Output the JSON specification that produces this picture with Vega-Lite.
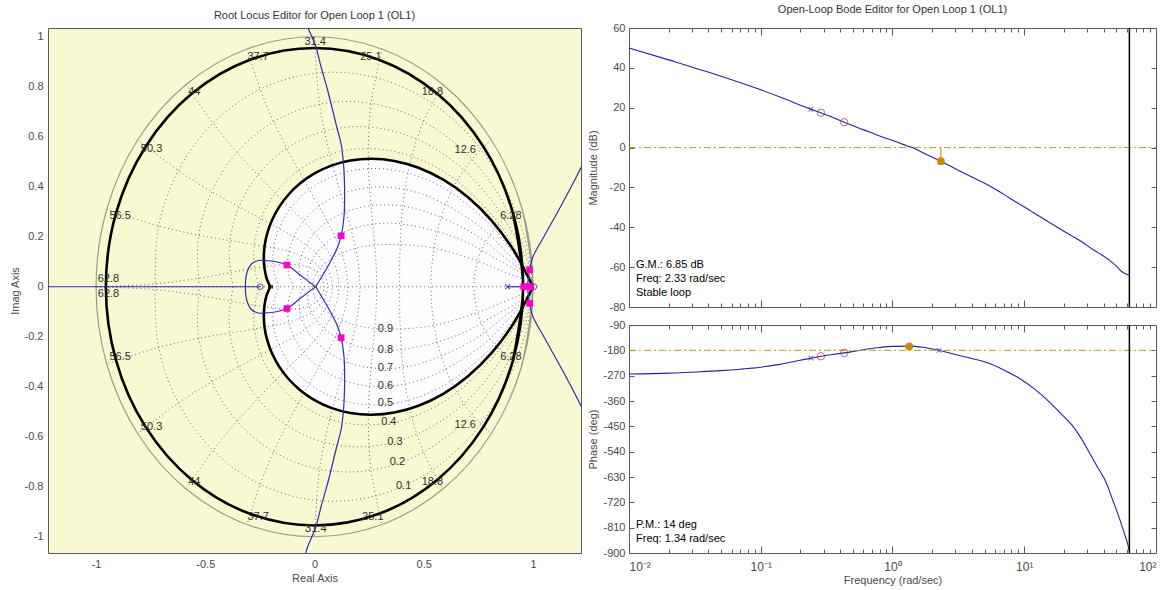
{
"$schema": "https://vega.github.io/schema/vega-lite/v6.json",
"background": "white",
"padding": {"left": 8, "top": 3, "right": 0, "bottom": 0},
"config": {
 "font": "Liberation Sans",
 "view": {"stroke": "#5a5a5a", "strokeWidth": 1},
 "axis": {"labelFont": "Liberation Sans", "labelFontSize": 11, "labelColor": "#4a4a4a", "titleFont": "Liberation Sans", "titleFontSize": 11, "titleFontWeight": "normal", "titleColor": "#4a4a4a", "grid": false, "domain": false, "tickColor": "#5a5a5a"},
 "title": {"font": "Liberation Sans", "fontSize": 11, "fontWeight": "normal", "color": "#333333", "offset": 7}
},
"datasets": {
 "grid": [
  {"g":"w1","x":0.9511,"y":0.309},{"g":"w1","x":0.895,"y":0.2846},{"g":"w1","x":0.8456,"y":0.2504},{"g":"w1","x":0.8022,"y":0.206},{"g":"w1","x":0.7731,"y":0.163},{"g":"w1","x":0.7552,"y":0.1261},{"g":"w1","x":0.7416,"y":0.086},{"g":"w1","x":0.7336,"y":0.0459},{"g":"w1","x":0.7304,"y":0},{"g":"w1","x":0.7336,"y":-0.0459},{"g":"w1","x":0.7416,"y":-0.086},{"g":"w1","x":0.7552,"y":-0.1261},{"g":"w1","x":0.7731,"y":-0.163},{"g":"w1","x":0.8022,"y":-0.206},{"g":"w1","x":0.8456,"y":-0.2504},{"g":"w1","x":0.895,"y":-0.2846},{"g":"w1","x":0.9511,"y":-0.309},
  {"g":"w2","x":0.809,"y":0.5878},{"g":"w2","x":0.72,"y":0.5092},{"g":"w2","x":0.6524,"y":0.4235},{"g":"w2","x":0.6011,"y":0.3305},{"g":"w2","x":0.5712,"y":0.252},{"g":"w2","x":0.5544,"y":0.1905},{"g":"w2","x":0.5427,"y":0.1277},{"g":"w2","x":0.536,"y":0.0674},{"g":"w2","x":0.5335,"y":0},{"g":"w2","x":0.536,"y":-0.0674},{"g":"w2","x":0.5427,"y":-0.1277},{"g":"w2","x":0.5544,"y":-0.1905},{"g":"w2","x":0.5712,"y":-0.252},{"g":"w2","x":0.6011,"y":-0.3305},{"g":"w2","x":0.6524,"y":-0.4235},{"g":"w2","x":0.72,"y":-0.5092},{"g":"w2","x":0.809,"y":-0.5878},
  {"g":"w3","x":0.5878,"y":0.809},{"g":"w3","x":0.4987,"y":0.6611},{"g":"w3","x":0.4455,"y":0.5216},{"g":"w3","x":0.4141,"y":0.3889},{"g":"w3","x":0.4004,"y":0.2879},{"g":"w3","x":0.3946,"y":0.2138},{"g":"w3","x":0.3915,"y":0.1413},{"g":"w3","x":0.3901,"y":0.0741},{"g":"w3","x":0.3897,"y":0},{"g":"w3","x":0.3901,"y":-0.0741},{"g":"w3","x":0.3915,"y":-0.1413},{"g":"w3","x":0.3946,"y":-0.2138},{"g":"w3","x":0.4004,"y":-0.2879},{"g":"w3","x":0.4141,"y":-0.3889},{"g":"w3","x":0.4455,"y":-0.5216},{"g":"w3","x":0.4987,"y":-0.6611},{"g":"w3","x":0.5878,"y":-0.809},
  {"g":"w4","x":0.309,"y":0.9511},{"g":"w4","x":0.2589,"y":0.7335},{"g":"w4","x":0.2464,"y":0.5524},{"g":"w4","x":0.2525,"y":0.397},{"g":"w4","x":0.2627,"y":0.2879},{"g":"w4","x":0.2711,"y":0.2113},{"g":"w4","x":0.2782,"y":0.1385},{"g":"w4","x":0.2828,"y":0.0722},{"g":"w4","x":0.2846,"y":0},{"g":"w4","x":0.2828,"y":-0.0722},{"g":"w4","x":0.2782,"y":-0.1385},{"g":"w4","x":0.2711,"y":-0.2113},{"g":"w4","x":0.2627,"y":-0.2879},{"g":"w4","x":0.2525,"y":-0.397},{"g":"w4","x":0.2464,"y":-0.5524},{"g":"w4","x":0.2589,"y":-0.7335},{"g":"w4","x":0.309,"y":-0.9511},
  {"g":"w5","x":0,"y":1},{"g":"w5","x":0.0232,"y":0.73},{"g":"w5","x":0.0698,"y":0.5289},{"g":"w5","x":0.1204,"y":0.3706},{"g":"w5","x":0.1561,"y":0.2654},{"g":"w5","x":0.178,"y":0.1937},{"g":"w5","x":0.1945,"y":0.1267},{"g":"w5","x":0.2041,"y":0.066},{"g":"w5","x":0.2079,"y":0},{"g":"w5","x":0.2041,"y":-0.066},{"g":"w5","x":0.1945,"y":-0.1267},{"g":"w5","x":0.178,"y":-0.1937},{"g":"w5","x":0.1561,"y":-0.2654},{"g":"w5","x":0.1204,"y":-0.3706},{"g":"w5","x":0.0698,"y":-0.5289},{"g":"w5","x":0.0232,"y":-0.73},{"g":"w5","x":0,"y":-1},
  {"g":"w6","x":-0.309,"y":0.9511},{"g":"w6","x":-0.2483,"y":0.7901},{"g":"w6","x":-0.187,"y":0.6599},{"g":"w6","x":-0.0735,"y":0.4647},{"g":"w6","x":0.0203,"y":0.3221},{"g":"w6","x":0.0775,"y":0.2305},{"g":"w6","x":0.1101,"y":0.1687},{"g":"w6","x":0.1333,"y":0.1107},{"g":"w6","x":0.1467,"y":0.0578},{"g":"w6","x":0.1518,"y":0},{"g":"w6","x":0.1467,"y":-0.0578},{"g":"w6","x":0.1333,"y":-0.1107},{"g":"w6","x":0.1101,"y":-0.1687},{"g":"w6","x":0.0775,"y":-0.2305},{"g":"w6","x":0.0203,"y":-0.3221},{"g":"w6","x":-0.0735,"y":-0.4647},{"g":"w6","x":-0.187,"y":-0.6599},{"g":"w6","x":-0.2483,"y":-0.7901},{"g":"w6","x":-0.309,"y":-0.9511},
  {"g":"w7","x":-0.5878,"y":0.809},{"g":"w7","x":-0.4646,"y":0.6544},{"g":"w7","x":-0.3549,"y":0.5376},{"g":"w7","x":-0.179,"y":0.3744},{"g":"w7","x":-0.0501,"y":0.2626},{"g":"w7","x":0.0223,"y":0.1909},{"g":"w7","x":0.0619,"y":0.1413},{"g":"w7","x":0.0894,"y":0.0936},{"g":"w7","x":0.105,"y":0.0491},{"g":"w7","x":0.1109,"y":0},{"g":"w7","x":0.105,"y":-0.0491},{"g":"w7","x":0.0894,"y":-0.0936},{"g":"w7","x":0.0619,"y":-0.1413},{"g":"w7","x":0.0223,"y":-0.1909},{"g":"w7","x":-0.0501,"y":-0.2626},{"g":"w7","x":-0.179,"y":-0.3744},{"g":"w7","x":-0.3549,"y":-0.5376},{"g":"w7","x":-0.4646,"y":-0.6544},{"g":"w7","x":-0.5878,"y":-0.809},
  {"g":"w8","x":-0.809,"y":0.5878},{"g":"w8","x":-0.6235,"y":0.465},{"g":"w8","x":-0.4704,"y":0.3804},{"g":"w8","x":-0.2449,"y":0.272},{"g":"w8","x":-0.0945,"y":0.2002},{"g":"w8","x":-0.0139,"y":0.1512},{"g":"w8","x":0.0288,"y":0.1145},{"g":"w8","x":0.0581,"y":0.0772},{"g":"w8","x":0.0748,"y":0.0409},{"g":"w8","x":0.081,"y":0},{"g":"w8","x":0.0748,"y":-0.0409},{"g":"w8","x":0.0581,"y":-0.0772},{"g":"w8","x":0.0288,"y":-0.1145},{"g":"w8","x":-0.0139,"y":-0.1512},{"g":"w8","x":-0.0945,"y":-0.2002},{"g":"w8","x":-0.2449,"y":-0.272},{"g":"w8","x":-0.4704,"y":-0.3804},{"g":"w8","x":-0.6235,"y":-0.465},{"g":"w8","x":-0.809,"y":-0.5878},
  {"g":"w9","x":-0.9511,"y":0.309},{"g":"w9","x":-0.7135,"y":0.2429},{"g":"w9","x":-0.5294,"y":0.2061},{"g":"w9","x":-0.2752,"y":0.1685},{"g":"w9","x":-0.1169,"y":0.1412},{"g":"w9","x":-0.0353,"y":0.1146},{"g":"w9","x":0.0073,"y":0.0901},{"g":"w9","x":0.0365,"y":0.0622},{"g":"w9","x":0.053,"y":0.0334},{"g":"w9","x":0.0592,"y":0},{"g":"w9","x":0.053,"y":-0.0334},{"g":"w9","x":0.0365,"y":-0.0622},{"g":"w9","x":0.0073,"y":-0.0901},{"g":"w9","x":-0.0353,"y":-0.1146},{"g":"w9","x":-0.1169,"y":-0.1412},{"g":"w9","x":-0.2752,"y":-0.1685},{"g":"w9","x":-0.5294,"y":-0.2061},{"g":"w9","x":-0.7135,"y":-0.2429},{"g":"w9","x":-0.9511,"y":-0.309},
  {"g":"w10","x":-1,"y":0},{"g":"w10","x":-0.7303,"y":0.0115},{"g":"w10","x":-0.5324,"y":0.0338},{"g":"w10","x":-0.2749,"y":0.0738},{"g":"w10","x":-0.1228,"y":0.0892},{"g":"w10","x":-0.0461,"y":0.0828},{"g":"w10","x":-0.0058,"y":0.069},{"g":"w10","x":0.0218,"y":0.0492},{"g":"w10","x":0.0373,"y":0.0269},{"g":"w10","x":0.0432,"y":0},{"g":"w10","x":0.0373,"y":-0.0269},{"g":"w10","x":0.0218,"y":-0.0492},{"g":"w10","x":-0.0058,"y":-0.069},{"g":"w10","x":-0.0461,"y":-0.0828},{"g":"w10","x":-0.1228,"y":-0.0892},{"g":"w10","x":-0.2749,"y":-0.0738},{"g":"w10","x":-0.5324,"y":-0.0338},{"g":"w10","x":-0.7303,"y":-0.0115},{"g":"w10","x":-1,"y":0},
  {"g":"re","x":-1,"y":0},{"g":"re","x":1,"y":0},
  {"g":"z1","x":-0.7292,"y":0},{"g":"z1","x":-0.7158,"y":0.2326},{"g":"z1","x":-0.6283,"y":0.4565},{"g":"z1","x":-0.4712,"y":0.6486},{"g":"z1","x":-0.2557,"y":0.7869},{"g":"z1","x":0,"y":0.8539},{"g":"z1","x":0.2723,"y":0.8382},{"g":"z1","x":0.5347,"y":0.7359},{"g":"z1","x":0.7595,"y":0.5518},{"g":"z1","x":0.9215,"y":0.2994},{"g":"z1","x":1,"y":0},{"g":"z1","x":0.9215,"y":-0.2994},{"g":"z1","x":0.7595,"y":-0.5518},{"g":"z1","x":0.5347,"y":-0.7359},{"g":"z1","x":0.2723,"y":-0.8382},{"g":"z1","x":0,"y":-0.8539},{"g":"z1","x":-0.2557,"y":-0.7869},{"g":"z1","x":-0.4712,"y":-0.6486},{"g":"z1","x":-0.6283,"y":-0.4565},{"g":"z1","x":-0.7158,"y":-0.2326},{"g":"z1","x":-0.7292,"y":0},
  {"g":"z2","x":-0.5268,"y":0},{"g":"z2","x":-0.5342,"y":0.1736},{"g":"z2","x":-0.4844,"y":0.352},{"g":"z2","x":-0.3753,"y":0.5165},{"g":"z2","x":-0.2103,"y":0.6474},{"g":"z2","x":0,"y":0.7258},{"g":"z2","x":0.2391,"y":0.736},{"g":"z2","x":0.485,"y":0.6675},{"g":"z2","x":0.7117,"y":0.5171},{"g":"z2","x":0.892,"y":0.2898},{"g":"z2","x":1,"y":0},{"g":"z2","x":0.892,"y":-0.2898},{"g":"z2","x":0.7117,"y":-0.5171},{"g":"z2","x":0.485,"y":-0.6675},{"g":"z2","x":0.2391,"y":-0.736},{"g":"z2","x":0,"y":-0.7258},{"g":"z2","x":-0.2103,"y":-0.6474},{"g":"z2","x":-0.3753,"y":-0.5165},{"g":"z2","x":-0.4844,"y":-0.352},{"g":"z2","x":-0.5342,"y":-0.1736},{"g":"z2","x":-0.5268,"y":0},
  {"g":"z3","x":-0.3723,"y":0},{"g":"z3","x":-0.3908,"y":0.127},{"g":"z3","x":-0.367,"y":0.2666},{"g":"z3","x":-0.2943,"y":0.4051},{"g":"z3","x":-0.1708,"y":0.5257},{"g":"z3","x":0,"y":0.6101},{"g":"z3","x":0.2081,"y":0.6406},{"g":"z3","x":0.437,"y":0.6015},{"g":"z3","x":0.6639,"y":0.4824},{"g":"z3","x":0.8616,"y":0.2799},{"g":"z3","x":1,"y":0},{"g":"z3","x":0.8616,"y":-0.2799},{"g":"z3","x":0.6639,"y":-0.4824},{"g":"z3","x":0.437,"y":-0.6015},{"g":"z3","x":0.2081,"y":-0.6406},{"g":"z3","x":0,"y":-0.6101},{"g":"z3","x":-0.1708,"y":-0.5257},{"g":"z3","x":-0.2943,"y":-0.4051},{"g":"z3","x":-0.367,"y":-0.2666},{"g":"z3","x":-0.3908,"y":-0.127},{"g":"z3","x":-0.3723,"y":0},
  {"g":"z4","x":-0.2539,"y":0},{"g":"z4","x":-0.277,"y":0.09},{"g":"z4","x":-0.2702,"y":0.1963},{"g":"z4","x":-0.2252,"y":0.3099},{"g":"z4","x":-0.1358,"y":0.4179},{"g":"z4","x":0,"y":0.5039},{"g":"z4","x":0.1786,"y":0.5497},{"g":"z4","x":0.3897,"y":0.5363},{"g":"z4","x":0.615,"y":0.4468},{"g":"z4","x":0.8293,"y":0.2694},{"g":"z4","x":0.9223,"y":0.146},{"g":"z4","x":1,"y":0},{"g":"z4","x":0.9223,"y":-0.146},{"g":"z4","x":0.8293,"y":-0.2694},{"g":"z4","x":0.615,"y":-0.4468},{"g":"z4","x":0.3897,"y":-0.5363},{"g":"z4","x":0.1786,"y":-0.5497},{"g":"z4","x":0,"y":-0.5039},{"g":"z4","x":-0.1358,"y":-0.4179},{"g":"z4","x":-0.2252,"y":-0.3099},{"g":"z4","x":-0.2702,"y":-0.1963},{"g":"z4","x":-0.277,"y":-0.09},{"g":"z4","x":-0.2539,"y":0},
  {"g":"z5","x":-0.163,"y":0},{"g":"z5","x":-0.1858,"y":0.0604},{"g":"z5","x":-0.1895,"y":0.1377},{"g":"z5","x":-0.1651,"y":0.2272},{"g":"z5","x":-0.104,"y":0.3202},{"g":"z5","x":0,"y":0.4037},{"g":"z5","x":0.1496,"y":0.4603},{"g":"z5","x":0.3411,"y":0.4695},{"g":"z5","x":0.5628,"y":0.4089},{"g":"z5","x":0.7933,"y":0.2577},{"g":"z5","x":0.902,"y":0.1428},{"g":"z5","x":1,"y":0},{"g":"z5","x":0.902,"y":-0.1428},{"g":"z5","x":0.7933,"y":-0.2577},{"g":"z5","x":0.5628,"y":-0.4089},{"g":"z5","x":0.3411,"y":-0.4695},{"g":"z5","x":0.1496,"y":-0.4603},{"g":"z5","x":0,"y":-0.4037},{"g":"z5","x":-0.104,"y":-0.3202},{"g":"z5","x":-0.1651,"y":-0.2272},{"g":"z5","x":-0.1895,"y":-0.1377},{"g":"z5","x":-0.1858,"y":-0.0604},{"g":"z5","x":-0.163,"y":0},
  {"g":"z6","x":-0.0948,"y":0},{"g":"z6","x":-0.1141,"y":0.0371},{"g":"z6","x":-0.1229,"y":0.0893},{"g":"z6","x":-0.113,"y":0.1555},{"g":"z6","x":-0.0752,"y":0.2314},{"g":"z6","x":0,"y":0.3079},{"g":"z6","x":0.1204,"y":0.3706},{"g":"z6","x":0.2899,"y":0.399},{"g":"z6","x":0.5051,"y":0.367},{"g":"z6","x":0.7515,"y":0.2441},{"g":"z6","x":0.878,"y":0.139},{"g":"z6","x":1,"y":0},{"g":"z6","x":0.878,"y":-0.139},{"g":"z6","x":0.7515,"y":-0.2441},{"g":"z6","x":0.5051,"y":-0.367},{"g":"z6","x":0.2899,"y":-0.399},{"g":"z6","x":0.1204,"y":-0.3706},{"g":"z6","x":0,"y":-0.3079},{"g":"z6","x":-0.0752,"y":-0.2314},{"g":"z6","x":-0.113,"y":-0.1555},{"g":"z6","x":-0.1229,"y":-0.0893},{"g":"z6","x":-0.1141,"y":-0.0371},{"g":"z6","x":-0.0948,"y":0},
  {"g":"z7","x":-0.046,"y":0},{"g":"z7","x":-0.0595,"y":0.0193},{"g":"z7","x":-0.0689,"y":0.0501},{"g":"z7","x":-0.0681,"y":0.0938},{"g":"z7","x":-0.0487,"y":0.15},{"g":"z7","x":0,"y":0.2145},{"g":"z7","x":0.0902,"y":0.2776},{"g":"z7","x":0.2334,"y":0.3213},{"g":"z7","x":0.437,"y":0.3175},{"g":"z7","x":0.6991,"y":0.2271},{"g":"z7","x":0.8468,"y":0.1341},{"g":"z7","x":1,"y":0},{"g":"z7","x":0.8468,"y":-0.1341},{"g":"z7","x":0.6991,"y":-0.2271},{"g":"z7","x":0.437,"y":-0.3175},{"g":"z7","x":0.2334,"y":-0.3213},{"g":"z7","x":0.0902,"y":-0.2776},{"g":"z7","x":0,"y":-0.2145},{"g":"z7","x":-0.0487,"y":-0.15},{"g":"z7","x":-0.0681,"y":-0.0938},{"g":"z7","x":-0.0689,"y":-0.0501},{"g":"z7","x":-0.0595,"y":-0.0193},{"g":"z7","x":-0.046,"y":0},
  {"g":"z8","x":-0.0152,"y":0},{"g":"z8","x":-0.022,"y":0.0071},{"g":"z8","x":-0.0284,"y":0.0206},{"g":"z8","x":-0.0313,"y":0.0431},{"g":"z8","x":-0.025,"y":0.077},{"g":"z8","x":0,"y":0.1232},{"g":"z8","x":0.0578,"y":0.178},{"g":"z8","x":0.1673,"y":0.2302},{"g":"z8","x":0.3501,"y":0.2543},{"g":"z8","x":0.6256,"y":0.2033},{"g":"z8","x":0.801,"y":0.1268},{"g":"z8","x":1,"y":0},{"g":"z8","x":0.801,"y":-0.1268},{"g":"z8","x":0.6256,"y":-0.2033},{"g":"z8","x":0.3501,"y":-0.2543},{"g":"z8","x":0.1673,"y":-0.2302},{"g":"z8","x":0.0578,"y":-0.178},{"g":"z8","x":0,"y":-0.1232},{"g":"z8","x":-0.025,"y":-0.077},{"g":"z8","x":-0.0313,"y":-0.0431},{"g":"z8","x":-0.0284,"y":-0.0206},{"g":"z8","x":-0.022,"y":-0.0071},{"g":"z8","x":-0.0152,"y":0},
  {"g":"z9","x":-0.0015,"y":0},{"g":"z9","x":-0.0045,"y":0.0033},{"g":"z9","x":-0.0063,"y":0.0087},{"g":"z9","x":-0.0063,"y":0.0194},{"g":"z9","x":0,"y":0.039},{"g":"z9","x":0.0231,"y":0.071},{"g":"z9","x":0.084,"y":0.1156},{"g":"z9","x":0.2211,"y":0.1606},{"g":"z9","x":0.4972,"y":0.1615},{"g":"z9","x":0.7141,"y":0.1131},{"g":"z9","x":0.8477,"y":0.0667},{"g":"z9","x":1,"y":0},{"g":"z9","x":0.8477,"y":-0.0667},{"g":"z9","x":0.7141,"y":-0.1131},{"g":"z9","x":0.4972,"y":-0.1615},{"g":"z9","x":0.2211,"y":-0.1606},{"g":"z9","x":0.084,"y":-0.1156},{"g":"z9","x":0.0231,"y":-0.071},{"g":"z9","x":0,"y":-0.039},{"g":"z9","x":-0.0063,"y":-0.0194},{"g":"z9","x":-0.0063,"y":-0.0087},{"g":"z9","x":-0.0045,"y":-0.0033},{"g":"z9","x":-0.0015,"y":0}
 ],
 "unitc": [
  {"x":0.9511,"y":-0.309},{"x":1,"y":0},{"x":0.9511,"y":0.309},{"x":0.809,"y":0.5878},{"x":0.5878,"y":0.809},{"x":0.309,"y":0.9511},{"x":0,"y":1},{"x":-0.309,"y":0.9511},{"x":-0.5878,"y":0.809},{"x":-0.809,"y":0.5878},{"x":-0.9511,"y":0.309},{"x":-1,"y":0},{"x":-0.9511,"y":-0.309},{"x":-0.809,"y":-0.5878},{"x":-0.5878,"y":-0.809},{"x":-0.309,"y":-0.9511},{"x":0,"y":-1},{"x":0.309,"y":-0.9511},{"x":0.5878,"y":-0.809},{"x":0.809,"y":-0.5878},{"x":0.9511,"y":-0.309},{"x":1,"y":0},{"x":0.9511,"y":0.309}
 ],
 "outerc": [
  {"x":0.9083,"y":-0.2951},{"x":0.955,"y":0},{"x":0.9083,"y":0.2951},{"x":0.7726,"y":0.5613},{"x":0.5613,"y":0.7726},{"x":0.2951,"y":0.9083},{"x":0,"y":0.955},{"x":-0.2951,"y":0.9083},{"x":-0.5613,"y":0.7726},{"x":-0.7726,"y":0.5613},{"x":-0.9083,"y":0.2951},{"x":-0.955,"y":0},{"x":-0.9083,"y":-0.2951},{"x":-0.7726,"y":-0.5613},{"x":-0.5613,"y":-0.7726},{"x":-0.2951,"y":-0.9083},{"x":0,"y":-0.955},{"x":0.2951,"y":-0.9083},{"x":0.5613,"y":-0.7726},{"x":0.7726,"y":-0.5613},{"x":0.9083,"y":-0.2951},{"x":0.955,"y":0},{"x":0.9083,"y":0.2951}
 ],
 "heart": [
  {"x":1,"y":0},{"x":0.9125,"y":0.1445},{"x":0.8119,"y":0.2638},{"x":0.7026,"y":0.358},{"x":0.5894,"y":0.4283},{"x":0.476,"y":0.476},{"x":0.3656,"y":0.5032},{"x":0.2609,"y":0.5121},{"x":0.164,"y":0.5049},{"x":0.0767,"y":0.4845},{"x":0,"y":0.4532},{"x":-0.0655,"y":0.4136},{"x":-0.1196,"y":0.368},{"x":-0.1623,"y":0.3185},{"x":-0.1941,"y":0.2671},{"x":-0.2157,"y":0.2157},{"x":-0.2281,"y":0.1657},{"x":-0.232,"y":0.1182},{"x":-0.2288,"y":0.0743},{"x":-0.2196,"y":0.0348},{"x":-0.2054,"y":0},{"x":-0.2196,"y":-0.0348},{"x":-0.2288,"y":-0.0743},{"x":-0.232,"y":-0.1182},{"x":-0.2281,"y":-0.1657},{"x":-0.2157,"y":-0.2157},{"x":-0.1941,"y":-0.2671},{"x":-0.1623,"y":-0.3185},{"x":-0.1196,"y":-0.368},{"x":-0.0655,"y":-0.4136},{"x":0,"y":-0.4532},{"x":0.0767,"y":-0.4845},{"x":0.164,"y":-0.5049},{"x":0.2609,"y":-0.5121},{"x":0.3656,"y":-0.5032},{"x":0.476,"y":-0.476},{"x":0.5894,"y":-0.4283},{"x":0.7026,"y":-0.358},{"x":0.8119,"y":-0.2638},{"x":0.9125,"y":-0.1445},{"x":1,"y":0}
 ],
 "heartArea": [
  {"x":1,"y":0,"yn":0},{"x":0.9125,"y":0.1445,"yn":-0.1445},{"x":0.8119,"y":0.2638,"yn":-0.2638},{"x":0.7026,"y":0.358,"yn":-0.358},{"x":0.5894,"y":0.4283,"yn":-0.4283},{"x":0.476,"y":0.476,"yn":-0.476},{"x":0.3656,"y":0.5032,"yn":-0.5032},{"x":0.2609,"y":0.5121,"yn":-0.5121},{"x":0.164,"y":0.5049,"yn":-0.5049},{"x":0.0767,"y":0.4845,"yn":-0.4845},{"x":0,"y":0.4532,"yn":-0.4532},{"x":-0.0655,"y":0.4136,"yn":-0.4136},{"x":-0.1196,"y":0.368,"yn":-0.368},{"x":-0.1623,"y":0.3185,"yn":-0.3185},{"x":-0.1941,"y":0.2671,"yn":-0.2671},{"x":-0.2157,"y":0.2157,"yn":-0.2157},{"x":-0.2281,"y":0.1657,"yn":-0.1657},{"x":-0.232,"y":0.1182,"yn":-0.1182}
 ],
 "notch": [
  {"x":-0.233,"y":0.1182,"yn":-0.1182},{"x":-0.2288,"y":0.0743,"yn":-0.0743},{"x":-0.2196,"y":0.0348,"yn":-0.0348},{"x":-0.2054,"y":0,"yn":0}
 ],
 "locus": [
  {"b":"ra","x":-1.3,"y":0},{"b":"ra","x":-0.248,"y":0},
  {"b":"ul","x":0.005,"y":0},{"b":"ul","x":-0.06,"y":0.043},{"b":"ul","x":-0.126,"y":0.087},{"b":"ul","x":-0.17,"y":0.099},{"b":"ul","x":-0.212,"y":0.104},{"b":"ul","x":-0.258,"y":0.105},{"b":"ul","x":-0.29,"y":0.09},{"b":"ul","x":-0.308,"y":0.06},{"b":"ul","x":-0.315,"y":0.03},{"b":"ul","x":-0.316,"y":0},
  {"b":"dl","x":0.005,"y":0},{"b":"dl","x":-0.06,"y":-0.043},{"b":"dl","x":-0.126,"y":-0.087},{"b":"dl","x":-0.17,"y":-0.099},{"b":"dl","x":-0.212,"y":-0.104},{"b":"dl","x":-0.258,"y":-0.105},{"b":"dl","x":-0.29,"y":-0.09},{"b":"dl","x":-0.308,"y":-0.06},{"b":"dl","x":-0.315,"y":-0.03},{"b":"dl","x":-0.316,"y":0},
  {"b":"uu","x":0.005,"y":0},{"b":"uu","x":0.04,"y":0.05},{"b":"uu","x":0.077,"y":0.107},{"b":"uu","x":0.104,"y":0.155},{"b":"uu","x":0.122,"y":0.204},{"b":"uu","x":0.134,"y":0.27},{"b":"uu","x":0.138,"y":0.35},{"b":"uu","x":0.137,"y":0.42},{"b":"uu","x":0.133,"y":0.49},{"b":"uu","x":0.122,"y":0.57},{"b":"uu","x":0.1,"y":0.646},{"b":"uu","x":0.062,"y":0.78},{"b":"uu","x":0.03,"y":0.88},{"b":"uu","x":0.004,"y":0.966},{"b":"uu","x":-0.034,"y":1.046},{"b":"uu","x":-0.045,"y":1.09},
  {"b":"dd","x":0.005,"y":0},{"b":"dd","x":0.04,"y":-0.05},{"b":"dd","x":0.077,"y":-0.107},{"b":"dd","x":0.104,"y":-0.155},{"b":"dd","x":0.122,"y":-0.204},{"b":"dd","x":0.134,"y":-0.27},{"b":"dd","x":0.138,"y":-0.35},{"b":"dd","x":0.137,"y":-0.42},{"b":"dd","x":0.133,"y":-0.49},{"b":"dd","x":0.122,"y":-0.57},{"b":"dd","x":0.1,"y":-0.646},{"b":"dd","x":0.062,"y":-0.78},{"b":"dd","x":0.03,"y":-0.88},{"b":"dd","x":0.004,"y":-0.966},{"b":"dd","x":-0.034,"y":-1.046},{"b":"dd","x":-0.045,"y":-1.09},
  {"b":"rx","x":0.884,"y":0},{"b":"rx","x":0.975,"y":0},
  {"b":"ru","x":0.975,"y":0},{"b":"ru","x":0.985,"y":0.068},{"b":"ru","x":1.0,"y":0.12},{"b":"ru","x":1.05,"y":0.2},{"b":"ru","x":1.12,"y":0.31},{"b":"ru","x":1.195,"y":0.433},{"b":"ru","x":1.25,"y":0.53},
  {"b":"rd","x":0.975,"y":0},{"b":"rd","x":0.985,"y":-0.068},{"b":"rd","x":1.0,"y":-0.12},{"b":"rd","x":1.05,"y":-0.2},{"b":"rd","x":1.12,"y":-0.31},{"b":"rd","x":1.195,"y":-0.433},{"b":"rd","x":1.25,"y":-0.53}
 ],
 "mag": [
  {"f":0.01,"v":50},{"f":0.02,"v":44},{"f":0.05,"v":35.8},{"f":0.1,"v":29},{"f":0.15,"v":24.6},{"f":0.2,"v":21.2},{"f":0.24,"v":19.2},{"f":0.286,"v":17.5},{"f":0.35,"v":15.2},{"f":0.43,"v":12.7},{"f":0.6,"v":9},{"f":0.8,"v":5.8},{"f":1.0,"v":3.6},{"f":1.2,"v":1.6},{"f":1.41,"v":0},{"f":1.8,"v":-3.4},{"f":2.33,"v":-6.85},{"f":3.0,"v":-10.6},{"f":4.0,"v":-14.8},{"f":5.4,"v":-19},{"f":7,"v":-23.5},{"f":9,"v":-28},{"f":10.9,"v":-31.3},{"f":15,"v":-37},{"f":20,"v":-42},{"f":26,"v":-46.4},{"f":33,"v":-51},{"f":44,"v":-56.4},{"f":50,"v":-59.5},{"f":54,"v":-61.8},{"f":58,"v":-63.2},{"f":62.8,"v":-64}
 ],
 "ph": [
  {"f":0.01,"v":-264},{"f":0.02,"v":-261},{"f":0.035,"v":-256},{"f":0.05,"v":-252},{"f":0.07,"v":-247},{"f":0.1,"v":-240},{"f":0.14,"v":-230},{"f":0.19,"v":-217},{"f":0.24,"v":-208},{"f":0.286,"v":-201},{"f":0.35,"v":-195},{"f":0.43,"v":-189},{"f":0.6,"v":-178},{"f":0.8,"v":-170},{"f":1.0,"v":-166},{"f":1.34,"v":-165},{"f":1.7,"v":-169},{"f":2.25,"v":-180},{"f":3.0,"v":-195},{"f":4.0,"v":-209},{"f":5.4,"v":-226},{"f":7.0,"v":-250},{"f":9.1,"v":-278},{"f":12,"v":-318},{"f":15.4,"v":-362},{"f":19,"v":-405},{"f":23,"v":-445},{"f":27,"v":-492},{"f":31,"v":-541},{"f":36,"v":-595},{"f":41.7,"v":-648},{"f":45.5,"v":-695},{"f":49.7,"v":-743},{"f":53.5,"v":-785},{"f":57.1,"v":-826},{"f":60.5,"v":-862},{"f":62.8,"v":-893}
 ]
},
"spacing": 4,
"hconcat": [
 {
  "width": 533, "height": 525,
  "title": "Root Locus Editor for Open Loop 1 (OL1)",
  "view": {"fill": "#f8f8d3"},
  "encoding": {
   "x": {"field": "x", "type": "quantitative", "scale": {"domain": [-1.22, 1.22], "nice": false, "zero": false}, "axis": {"title": "Real Axis", "values": [-1, -0.5, 0, 0.5, 1], "labelExpr": "'' + datum.value", "ticks": false, "labelPadding": 5, "titlePadding": 3}},
   "y": {"field": "y", "type": "quantitative", "scale": {"domain": [-1.065, 1.035], "nice": false, "zero": false}, "axis": {"title": "Imag Axis", "values": [-1, -0.8, -0.6, -0.4, -0.2, 0, 0.2, 0.4, 0.6, 0.8, 1], "labelExpr": "'' + datum.value", "ticks": false, "labelPadding": 5, "titlePadding": 4}}
  },
  "layer": [
   {"data": {"name": "heartArea"}, "mark": {"type": "area", "color": "#fdfdff", "opacity": 1, "interpolate": "monotone"}, "encoding": {"y2": {"field": "yn"}}},
   {"data": {"name": "notch"}, "mark": {"type": "area", "color": "#f8f8d3", "opacity": 1}, "encoding": {"y2": {"field": "yn"}}},
   {"data": {"name": "grid"}, "mark": {"type": "line", "color": "#6a6a6a", "strokeWidth": 1, "strokeDash": [1, 3], "interpolate": "catmull-rom", "clip": true}, "encoding": {"detail": {"field": "g"}, "order": {"value": null}}},
   {"data": {"name": "unitc"}, "mark": {"type": "line", "color": "#9c9c8c", "strokeWidth": 1.2, "interpolate": "catmull-rom"}, "encoding": {"order": {"value": null}}},
   {"data": {"name": "outerc"}, "mark": {"type": "line", "color": "#000000", "strokeWidth": 2.6, "interpolate": "catmull-rom"}, "encoding": {"order": {"value": null}}},
   {"data": {"name": "heart"}, "mark": {"type": "line", "color": "#000000", "strokeWidth": 2.6, "interpolate": "catmull-rom"}, "encoding": {"order": {"value": null}}},
   {"data": {"name": "locus"}, "mark": {"type": "line", "color": "#2d2db8", "strokeWidth": 1.2, "interpolate": "catmull-rom", "clip": true}, "encoding": {"detail": {"field": "b"}, "order": {"value": null}}},
   {"data": {"values": [{"x": -0.248, "y": 0}, {"x": 1.005, "y": 0}]}, "mark": {"type": "point", "shape": "circle", "filled": false, "stroke": "#2d2db8", "strokeWidth": 1.2, "size": 30}},
   {"data": {"values": [{"x": 0.884, "y": 0}]}, "mark": {"type": "point", "shape": "M-1,-1L1,1M-1,1L1,-1", "filled": false, "stroke": "#2d2db8", "strokeWidth": 1.2, "size": 25}},
   {"data": {"values": [{"x": 0.005, "y": 0}]}, "mark": {"type": "point", "shape": "M-1,-1L1,1M-1,1L1,-1", "filled": false, "stroke": "#c03040", "strokeWidth": 1, "size": 16}},
   {"data": {"values": [{"x": -0.198, "y": 0}]}, "mark": {"type": "point", "shape": "square", "filled": true, "color": "#000000", "size": 14}},
   {"data": {"values": [{"x": -0.126, "y": 0.087}, {"x": -0.126, "y": -0.087}, {"x": 0.122, "y": 0.204}, {"x": 0.122, "y": -0.204}, {"x": 0.985, "y": 0.068}, {"x": 0.985, "y": -0.066}, {"x": 0.958, "y": 0}, {"x": 0.975, "y": 0}, {"x": 0.99, "y": 0}]}, "mark": {"type": "point", "shape": "square", "filled": true, "color": "#ff00c8", "opacity": 1, "size": 45}},
   {"data": {"values": [
     {"t": "31.4", "x": 0.003, "y": 0.98}, {"t": "31.4", "x": 0.006, "y": -0.968},
     {"t": "37.7", "x": -0.258, "y": 0.919}, {"t": "37.7", "x": -0.258, "y": -0.919},
     {"t": "25.1", "x": 0.258, "y": 0.919}, {"t": "25.1", "x": 0.267, "y": -0.919},
     {"t": "44", "x": -0.55, "y": 0.78}, {"t": "44", "x": -0.55, "y": -0.78},
     {"t": "18.8", "x": 0.54, "y": 0.78}, {"t": "18.8", "x": 0.54, "y": -0.78},
     {"t": "50.3", "x": -0.746, "y": 0.553}, {"t": "50.3", "x": -0.746, "y": -0.559},
     {"t": "12.6", "x": 0.69, "y": 0.546}, {"t": "12.6", "x": 0.69, "y": -0.552},
     {"t": "56.5", "x": -0.89, "y": 0.283}, {"t": "56.5", "x": -0.89, "y": -0.28},
     {"t": "6.28", "x": 0.899, "y": 0.284}, {"t": "6.28", "x": 0.899, "y": -0.28},
     {"t": "62.8", "x": -0.943, "y": 0.03}, {"t": "62.8", "x": -0.943, "y": -0.029},
     {"t": "0.9", "x": 0.325, "y": -0.169}, {"t": "0.8", "x": 0.325, "y": -0.253}, {"t": "0.7", "x": 0.325, "y": -0.326}, {"t": "0.6", "x": 0.325, "y": -0.397}, {"t": "0.5", "x": 0.325, "y": -0.466}, {"t": "0.4", "x": 0.34, "y": -0.54}, {"t": "0.3", "x": 0.368, "y": -0.62}, {"t": "0.2", "x": 0.38, "y": -0.7}, {"t": "0.1", "x": 0.408, "y": -0.796}
    ]}, "mark": {"type": "text", "font": "Liberation Sans", "fontSize": 11, "color": "#303030"}, "encoding": {"text": {"field": "t"}}}
  ]
 },
 {
  "spacing": 5,
  "vconcat": [
   {
    "width": 527, "height": 279,
    "title": "Open-Loop Bode Editor for Open Loop 1 (OL1)",
    "resolve": {"axis": {"x": "independent", "y": "independent"}},
    "encoding": {
     "x": {"field": "f", "type": "quantitative", "scale": {"type": "log", "domain": [0.01, 100], "nice": false}, "axis": null},
     "y": {"field": "v", "type": "quantitative", "scale": {"domain": [-80, 60], "nice": false, "zero": false}, "axis": null}
    },
    "layer": [
     {"data": {"name": "mag"}, "mark": {"type": "line", "color": "#24249c", "strokeWidth": 1.1, "interpolate": "monotone"},
      "encoding": {
       "x": {"field": "f", "type": "quantitative", "scale": {"type": "log", "domain": [0.01, 100], "nice": false}, "axis": {"orient": "bottom", "title": null, "labels": false, "values": [0.01,0.02,0.03,0.04,0.05,0.06,0.07,0.08,0.09,0.1,0.2,0.3,0.4,0.5,0.6,0.7,0.8,0.9,1,2,3,4,5,6,7,8,9,10,20,30,40,50,60,70,80,90,100], "tickSize": {"condition": {"test": "abs(log(datum.value)/LN10 - round(log(datum.value)/LN10)) < 0.01", "value": -7}, "value": -4}}},
       "y": {"field": "v", "type": "quantitative", "scale": {"domain": [-80, 60], "nice": false, "zero": false}, "axis": {"orient": "left", "title": "Magnitude (dB)", "values": [-80,-60,-40,-20,0,20,40,60], "labelExpr": "'' + datum.value", "tickSize": -5, "labelPadding": 9, "titlePadding": 5, "minExtent": 26, "maxExtent": 26}}
      }},
     {"data": {"values": [{"f": 0.01, "f2": 100, "v": 0}]}, "mark": {"type": "rule", "color": "#c8951c", "strokeWidth": 1, "strokeDash": [7, 3, 2, 3]},
      "encoding": {
       "x": {"field": "f", "type": "quantitative", "scale": {"type": "log", "domain": [0.01, 100], "nice": false}, "axis": {"orient": "top", "title": null, "labels": false, "values": [0.01,0.02,0.03,0.04,0.05,0.06,0.07,0.08,0.09,0.1,0.2,0.3,0.4,0.5,0.6,0.7,0.8,0.9,1,2,3,4,5,6,7,8,9,10,20,30,40,50,60,70,80,90,100], "tickSize": {"condition": {"test": "abs(log(datum.value)/LN10 - round(log(datum.value)/LN10)) < 0.01", "value": -7}, "value": -4}}},
       "x2": {"field": "f2"},
       "y": {"field": "v", "type": "quantitative", "scale": {"domain": [-80, 60], "nice": false, "zero": false}, "axis": {"orient": "right", "title": null, "labels": false, "values": [-80,-60,-40,-20,0,20,40,60], "tickSize": -5}}
      }},
     {"data": {"values": [{"f": 62.8, "v": -80, "v2": 60}]}, "mark": {"type": "rule", "color": "#000000", "strokeWidth": 1.5}, "encoding": {"y2": {"field": "v2"}}},
     {"data": {"values": [{"f": 2.33, "v": 0, "v2": -6.85}]}, "mark": {"type": "rule", "color": "#c8951c", "strokeWidth": 1.2}, "encoding": {"y2": {"field": "v2"}}},
     {"data": {"values": [{"f": 2.33, "v": -6.85}]}, "mark": {"type": "point", "shape": "circle", "filled": true, "color": "#d0870e", "opacity": 1, "size": 60}},
     {"data": {"values": [{"f": 0.24, "v": 19.2}]}, "mark": {"type": "point", "shape": "M-1,-1L1,1M-1,1L1,-1", "filled": false, "stroke": "#3a3ab0", "strokeWidth": 1.1, "size": 20}},
     {"data": {"values": [{"f": 0.286, "v": 17.5}, {"f": 0.43, "v": 12.7}]}, "mark": {"type": "point", "shape": "circle", "filled": false, "stroke": "#a8285a", "strokeWidth": 1, "size": 55}},
     {"data": {"values": [{"f": 0.0113, "v": -59, "t": "G.M.: 6.85 dB"}, {"f": 0.0113, "v": -66, "t": "Freq: 2.33 rad/sec"}, {"f": 0.0113, "v": -73, "t": "Stable loop"}]}, "mark": {"type": "text", "align": "left", "font": "Liberation Sans", "fontSize": 11, "color": "#000000"}, "encoding": {"text": {"field": "t"}}}
    ]
   },
   {
    "width": 527, "height": 228,
    "resolve": {"axis": {"x": "independent", "y": "independent"}},
    "encoding": {
     "x": {"field": "f", "type": "quantitative", "scale": {"type": "log", "domain": [0.01, 100], "nice": false}, "axis": null},
     "y": {"field": "v", "type": "quantitative", "scale": {"domain": [-900, -90], "nice": false, "zero": false}, "axis": null}
    },
    "layer": [
     {"data": {"name": "ph"}, "mark": {"type": "line", "color": "#24249c", "strokeWidth": 1.1, "interpolate": "monotone"},
      "encoding": {
       "x": {"field": "f", "type": "quantitative", "scale": {"type": "log", "domain": [0.01, 100], "nice": false}, "axis": {"orient": "bottom", "title": "Frequency (rad/sec)", "titlePadding": 2, "labelPadding": 15, "values": [0.01,0.02,0.03,0.04,0.05,0.06,0.07,0.08,0.09,0.1,0.2,0.3,0.4,0.5,0.6,0.7,0.8,0.9,1,2,3,4,5,6,7,8,9,10,20,30,40,50,60,70,80,90,100], "labelExpr": "datum.value == 0.01 ? '10⁻²' : datum.value == 0.1 ? '10⁻¹' : datum.value == 1 ? '10⁰' : datum.value == 10 ? '10¹' : datum.value == 100 ? '10²' : ''", "labelFontSize": 12, "tickSize": {"condition": {"test": "abs(log(datum.value)/LN10 - round(log(datum.value)/LN10)) < 0.01", "value": -7}, "value": -4}}},
       "y": {"field": "v", "type": "quantitative", "scale": {"domain": [-900, -90], "nice": false, "zero": false}, "axis": {"orient": "left", "title": "Phase (deg)", "values": [-900,-810,-720,-630,-540,-450,-360,-270,-180,-90], "labelExpr": "'' + datum.value", "tickSize": -5, "labelPadding": 9, "titlePadding": 5, "minExtent": 26, "maxExtent": 26}}
      }},
     {"data": {"values": [{"f": 0.01, "f2": 100, "v": -180}]}, "mark": {"type": "rule", "color": "#c8951c", "strokeWidth": 1, "strokeDash": [7, 3, 2, 3]},
      "encoding": {
       "x": {"field": "f", "type": "quantitative", "scale": {"type": "log", "domain": [0.01, 100], "nice": false}, "axis": {"orient": "top", "title": null, "labels": false, "values": [0.01,0.02,0.03,0.04,0.05,0.06,0.07,0.08,0.09,0.1,0.2,0.3,0.4,0.5,0.6,0.7,0.8,0.9,1,2,3,4,5,6,7,8,9,10,20,30,40,50,60,70,80,90,100], "tickSize": {"condition": {"test": "abs(log(datum.value)/LN10 - round(log(datum.value)/LN10)) < 0.01", "value": -7}, "value": -4}}},
       "x2": {"field": "f2"},
       "y": {"field": "v", "type": "quantitative", "scale": {"domain": [-900, -90], "nice": false, "zero": false}, "axis": {"orient": "right", "title": null, "labels": false, "values": [-900,-810,-720,-630,-540,-450,-360,-270,-180,-90], "tickSize": -5}}
      }},
     {"data": {"values": [{"f": 62.8, "v": -900, "v2": -90}]}, "mark": {"type": "rule", "color": "#000000", "strokeWidth": 1.5}, "encoding": {"y2": {"field": "v2"}}},
     {"data": {"values": [{"f": 1.34, "v": -180, "v2": -166}]}, "mark": {"type": "rule", "color": "#c8951c", "strokeWidth": 1.2}, "encoding": {"y2": {"field": "v2"}}},
     {"data": {"values": [{"f": 1.34, "v": -166}]}, "mark": {"type": "point", "shape": "circle", "filled": true, "color": "#d0870e", "opacity": 1, "size": 60}},
     {"data": {"values": [{"f": 0.24, "v": -208}, {"f": 2.25, "v": -180}]}, "mark": {"type": "point", "shape": "M-1,-1L1,1M-1,1L1,-1", "filled": false, "stroke": "#3a3ab0", "strokeWidth": 1.1, "size": 20}},
     {"data": {"values": [{"f": 0.286, "v": -201}, {"f": 0.43, "v": -189}]}, "mark": {"type": "point", "shape": "circle", "filled": false, "stroke": "#a8285a", "strokeWidth": 1, "size": 55}},
     {"data": {"values": [{"f": 0.0113, "v": -800, "t": "P.M.: 14 deg"}, {"f": 0.0113, "v": -850, "t": "Freq: 1.34 rad/sec"}]}, "mark": {"type": "text", "align": "left", "font": "Liberation Sans", "fontSize": 11, "color": "#000000"}, "encoding": {"text": {"field": "t"}}}
    ]
   }
  ]
 }
]
}
